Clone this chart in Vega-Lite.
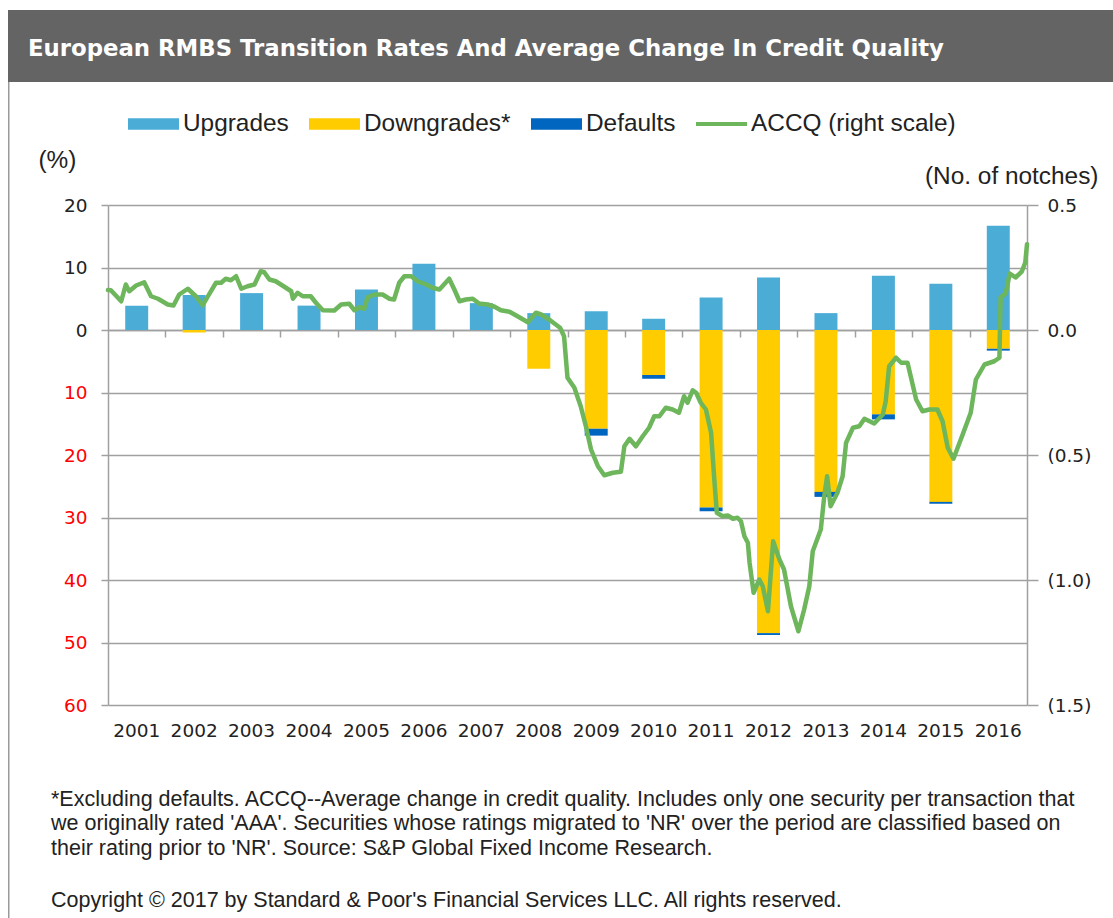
{
  "$schema": "https://vega.github.io/schema/vega-lite/v6.json",
  "background": "white",
  "padding": {"left": 8, "top": 10, "right": 0, "bottom": 0},
  "bounds": "flush",
  "spacing": 0,
  "resolve": {"scale": {"color": "independent"}, "legend": {"color": "independent"}},
  "config": {
    "axis": {"labelFont": "DejaVu Sans", "labelFontSize": 18.5, "labelColor": "#222222", "titleFont": "Liberation Sans", "titleFontSize": 24.4, "titleFontWeight": "normal", "titleColor": "#222222"},
    "legend": {"labelFont": "Liberation Sans", "labelFontSize": 24.4, "labelColor": "#222222", "labelLimit": 0}
  },
  "datasets": {
    "bars": [
      {"year": "2001", "series": "Upgrades", "value": 3.9},
      {"year": "2002", "series": "Upgrades", "value": 5.6},
      {"year": "2002", "series": "Downgrades*", "value": -0.4},
      {"year": "2003", "series": "Upgrades", "value": 5.9},
      {"year": "2004", "series": "Upgrades", "value": 3.9},
      {"year": "2005", "series": "Upgrades", "value": 6.5},
      {"year": "2006", "series": "Upgrades", "value": 10.6},
      {"year": "2007", "series": "Upgrades", "value": 4.3},
      {"year": "2008", "series": "Upgrades", "value": 2.7},
      {"year": "2008", "series": "Downgrades*", "value": -6.2},
      {"year": "2009", "series": "Upgrades", "value": 3.0},
      {"year": "2009", "series": "Downgrades*", "value": -15.8},
      {"year": "2009", "series": "Defaults", "value": -1.1},
      {"year": "2010", "series": "Upgrades", "value": 1.8},
      {"year": "2010", "series": "Downgrades*", "value": -7.2},
      {"year": "2010", "series": "Defaults", "value": -0.6},
      {"year": "2011", "series": "Upgrades", "value": 5.2},
      {"year": "2011", "series": "Downgrades*", "value": -28.4},
      {"year": "2011", "series": "Defaults", "value": -0.6},
      {"year": "2012", "series": "Upgrades", "value": 8.4},
      {"year": "2012", "series": "Downgrades*", "value": -48.5},
      {"year": "2012", "series": "Defaults", "value": -0.3},
      {"year": "2013", "series": "Upgrades", "value": 2.7},
      {"year": "2013", "series": "Downgrades*", "value": -25.9},
      {"year": "2013", "series": "Defaults", "value": -0.8},
      {"year": "2014", "series": "Upgrades", "value": 8.7},
      {"year": "2014", "series": "Downgrades*", "value": -13.5},
      {"year": "2014", "series": "Defaults", "value": -0.8},
      {"year": "2015", "series": "Upgrades", "value": 7.4},
      {"year": "2015", "series": "Downgrades*", "value": -27.5},
      {"year": "2015", "series": "Defaults", "value": -0.3},
      {"year": "2016", "series": "Upgrades", "value": 16.7},
      {"year": "2016", "series": "Downgrades*", "value": -3.0},
      {"year": "2016", "series": "Defaults", "value": -0.3}
    ],
    "accq": [
      {"t": 2001.0, "v": 0.16}, {"t": 2001.05, "v": 0.159}, {"t": 2001.23, "v": 0.115}, {"t": 2001.31, "v": 0.182}, {"t": 2001.37, "v": 0.155},
      {"t": 2001.49, "v": 0.178}, {"t": 2001.63, "v": 0.191}, {"t": 2001.75, "v": 0.135}, {"t": 2001.87, "v": 0.125},
      {"t": 2002.04, "v": 0.102}, {"t": 2002.14, "v": 0.098}, {"t": 2002.24, "v": 0.142}, {"t": 2002.39, "v": 0.165},
      {"t": 2002.53, "v": 0.135}, {"t": 2002.65, "v": 0.099}, {"t": 2002.74, "v": 0.135}, {"t": 2002.88, "v": 0.189},
      {"t": 2002.97, "v": 0.189}, {"t": 2003.05, "v": 0.205}, {"t": 2003.14, "v": 0.199}, {"t": 2003.23, "v": 0.215},
      {"t": 2003.32, "v": 0.165}, {"t": 2003.43, "v": 0.175}, {"t": 2003.55, "v": 0.182}, {"t": 2003.66, "v": 0.235},
      {"t": 2003.72, "v": 0.231}, {"t": 2003.81, "v": 0.202}, {"t": 2003.92, "v": 0.195}, {"t": 2004.07, "v": 0.173},
      {"t": 2004.19, "v": 0.155}, {"t": 2004.22, "v": 0.125}, {"t": 2004.3, "v": 0.149}, {"t": 2004.39, "v": 0.135},
      {"t": 2004.53, "v": 0.135}, {"t": 2004.62, "v": 0.109}, {"t": 2004.74, "v": 0.079}, {"t": 2004.94, "v": 0.078},
      {"t": 2005.06, "v": 0.102}, {"t": 2005.2, "v": 0.105}, {"t": 2005.29, "v": 0.079}, {"t": 2005.38, "v": 0.091},
      {"t": 2005.46, "v": 0.085}, {"t": 2005.52, "v": 0.131}, {"t": 2005.64, "v": 0.142}, {"t": 2005.78, "v": 0.142},
      {"t": 2005.9, "v": 0.125}, {"t": 2005.98, "v": 0.122}, {"t": 2006.07, "v": 0.189}, {"t": 2006.16, "v": 0.215},
      {"t": 2006.28, "v": 0.215}, {"t": 2006.39, "v": 0.195}, {"t": 2006.54, "v": 0.182}, {"t": 2006.65, "v": 0.169},
      {"t": 2006.77, "v": 0.162}, {"t": 2006.85, "v": 0.182}, {"t": 2006.94, "v": 0.205}, {"t": 2007.03, "v": 0.162},
      {"t": 2007.12, "v": 0.115}, {"t": 2007.23, "v": 0.122}, {"t": 2007.35, "v": 0.125}, {"t": 2007.46, "v": 0.106},
      {"t": 2007.61, "v": 0.102}, {"t": 2007.73, "v": 0.093}, {"t": 2007.84, "v": 0.079}, {"t": 2007.99, "v": 0.073},
      {"t": 2008.13, "v": 0.055}, {"t": 2008.31, "v": 0.031}, {"t": 2008.45, "v": 0.069}, {"t": 2008.54, "v": 0.062},
      {"t": 2008.68, "v": 0.042}, {"t": 2008.87, "v": 0.009}, {"t": 2008.94, "v": -0.025}, {"t": 2009.0, "v": -0.191},
      {"t": 2009.12, "v": -0.231}, {"t": 2009.23, "v": -0.305}, {"t": 2009.32, "v": -0.385}, {"t": 2009.41, "v": -0.478},
      {"t": 2009.53, "v": -0.545}, {"t": 2009.64, "v": -0.581}, {"t": 2009.79, "v": -0.571}, {"t": 2009.93, "v": -0.567},
      {"t": 2009.99, "v": -0.465}, {"t": 2010.08, "v": -0.435}, {"t": 2010.19, "v": -0.465}, {"t": 2010.31, "v": -0.425},
      {"t": 2010.42, "v": -0.391}, {"t": 2010.51, "v": -0.345}, {"t": 2010.6, "v": -0.345}, {"t": 2010.71, "v": -0.311},
      {"t": 2010.83, "v": -0.318}, {"t": 2010.94, "v": -0.331}, {"t": 2011.03, "v": -0.265}, {"t": 2011.09, "v": -0.291},
      {"t": 2011.18, "v": -0.241}, {"t": 2011.24, "v": -0.251}, {"t": 2011.32, "v": -0.291}, {"t": 2011.41, "v": -0.318},
      {"t": 2011.5, "v": -0.411}, {"t": 2011.56, "v": -0.611}, {"t": 2011.6, "v": -0.731}, {"t": 2011.7, "v": -0.745},
      {"t": 2011.79, "v": -0.742}, {"t": 2011.88, "v": -0.755}, {"t": 2011.96, "v": -0.751}, {"t": 2012.02, "v": -0.765},
      {"t": 2012.08, "v": -0.825}, {"t": 2012.14, "v": -0.851}, {"t": 2012.17, "v": -0.931}, {"t": 2012.24, "v": -1.051},
      {"t": 2012.34, "v": -0.998}, {"t": 2012.4, "v": -1.025}, {"t": 2012.49, "v": -1.125}, {"t": 2012.58, "v": -0.845},
      {"t": 2012.69, "v": -0.918}, {"t": 2012.77, "v": -0.958}, {"t": 2012.89, "v": -1.105}, {"t": 2013.02, "v": -1.205},
      {"t": 2013.12, "v": -1.118}, {"t": 2013.21, "v": -1.025}, {"t": 2013.27, "v": -0.885}, {"t": 2013.41, "v": -0.798},
      {"t": 2013.47, "v": -0.665}, {"t": 2013.52, "v": -0.585}, {"t": 2013.58, "v": -0.705}, {"t": 2013.7, "v": -0.651},
      {"t": 2013.79, "v": -0.585}, {"t": 2013.85, "v": -0.451}, {"t": 2013.97, "v": -0.391}, {"t": 2014.08, "v": -0.385},
      {"t": 2014.17, "v": -0.355}, {"t": 2014.34, "v": -0.374}, {"t": 2014.49, "v": -0.338}, {"t": 2014.54, "v": -0.285},
      {"t": 2014.6, "v": -0.145}, {"t": 2014.72, "v": -0.111}, {"t": 2014.81, "v": -0.131}, {"t": 2014.92, "v": -0.131},
      {"t": 2015.07, "v": -0.278}, {"t": 2015.18, "v": -0.325}, {"t": 2015.3, "v": -0.318}, {"t": 2015.44, "v": -0.318},
      {"t": 2015.53, "v": -0.365}, {"t": 2015.62, "v": -0.471}, {"t": 2015.72, "v": -0.515}, {"t": 2015.88, "v": -0.418},
      {"t": 2016.02, "v": -0.331}, {"t": 2016.11, "v": -0.198}, {"t": 2016.26, "v": -0.138}, {"t": 2016.43, "v": -0.125},
      {"t": 2016.52, "v": -0.111}, {"t": 2016.54, "v": 0.13}, {"t": 2016.63, "v": 0.147}, {"t": 2016.7, "v": 0.226},
      {"t": 2016.8, "v": 0.21}, {"t": 2016.91, "v": 0.234}, {"t": 2016.97, "v": 0.27}, {"t": 2017.0, "v": 0.343}
    ]
  },
  "vconcat": [
    {
      "width": 1105,
      "height": 72,
      "view": {"fill": "#646464", "stroke": null},
      "data": {"values": []},
      "mark": "point",
      "title": {
        "text": "European RMBS Transition Rates And Average Change In Credit Quality",
        "anchor": "start", "frame": "group", "orient": "top", "offset": -69, "dx": 20,
        "baseline": "alphabetic", "color": "#ffffff", "font": "DejaVu Sans", "fontSize": 22.8, "fontWeight": "bold"
      }
    },
    {
      "spacing": 0,
      "bounds": "flush",
      "resolve": {"scale": {"color": "independent"}, "legend": {"color": "independent"}},
      "hconcat": [
        {
          "width": 1.5,
          "height": 836,
          "view": {"fill": "#9A9A9A", "stroke": null},
          "data": {"values": []},
          "mark": "point"
        },
        {
          "width": 97.5,
          "height": 10,
          "view": {"stroke": null},
          "data": {"values": []},
          "mark": "point"
        },
        {
          "spacing": 0,
          "bounds": "flush",
          "resolve": {"scale": {"color": "independent"}, "legend": {"color": "independent"}},
          "vconcat": [
            {
              "width": 919,
              "height": 123,
              "view": {"stroke": null},
              "data": {"values": []},
              "mark": "point"
            },
            {
              "width": 919,
              "height": 500,
              "view": {"stroke": null},
              "title": {
                "text": [
                  "*Excluding defaults. ACCQ--Average change in credit quality. Includes only one  security per transaction that",
                  "we originally rated 'AAA'. Securities whose ratings  migrated to 'NR' over the period are classified based on",
                  "their rating prior to 'NR'.  Source: S&P Global Fixed Income Research."
                ],
                "subtitle": "Copyright © 2017 by Standard & Poor's Financial Services LLC. All rights reserved.",
                "orient": "bottom", "anchor": "start", "frame": "group", "dx": -57, "offset": 49,
                "baseline": "top",
                "font": "Liberation Sans", "fontSize": 21.5, "fontWeight": "normal", "color": "#222222", "lineHeight": 24.5,
                "subtitleFont": "Liberation Sans", "subtitleFontSize": 21.5, "subtitleColor": "#222222", "subtitlePadding": 31
              },
              "resolve": {"scale": {"x": "independent", "y": "independent"}, "axis": {"x": "independent", "y": "independent"}},
              "layer": [
                {
                  "data": {"name": "bars"},
                  "mark": {"type": "bar"},
                  "encoding": {
                    "x": {
                      "field": "year", "type": "ordinal",
                      "scale": {"paddingInner": 0.6, "paddingOuter": 0.3},
                      "axis": {"orient": "bottom", "title": null, "domain": false, "ticks": false, "grid": false, "labelAngle": 0, "labelPadding": 16}
                    },
                    "y": {
                      "field": "value", "type": "quantitative", "stack": "zero",
                      "scale": {"domain": [-60, 20], "nice": false, "zero": false},
                      "axis": {
                        "orient": "left", "values": [-60, -50, -40, -30, -20, -10, 0, 10, 20],
                        "labelExpr": "format(abs(datum.value), 'd')",
                        "labelColor": {"condition": {"test": "datum.value < 0", "value": "#FF0000"}, "value": "#222222"},
                        "grid": true, "gridColor": "#A0A0A0", "gridWidth": 1.5,
                        "domain": true, "domainColor": "#A0A0A0", "domainWidth": 1.5,
                        "ticks": true, "tickColor": "#A0A0A0", "tickWidth": 1.5, "tickSize": 7, "labelPadding": 14,
                        "title": "(%)", "titleAngle": 0, "titleAlign": "left", "titleBaseline": "middle", "titleX": -70, "titleY": -45
                      }
                    },
                    "color": {
                      "field": "series", "type": "nominal",
                      "scale": {"domain": ["Upgrades", "Downgrades*", "Defaults", "ACCQ (right scale)"], "range": ["#4BACD6", "#FFCC00", "#0066BF", "#6DB65B"]},
                      "legend": {
                        "title": null, "orient": "none", "direction": "horizontal", "legendX": 20, "legendY": -106.5,
                        "symbolSize": 2601, "labelOffset": 4, "columnPadding": 20,
                        "encode": {
                          "symbols": {
                            "update": {
                              "shape": {"signal": "datum.value === 'ACCQ (right scale)' ? 'M-1,-0.08H1V0.08H-1Z' : 'M-1,-0.225H1V0.225H-1Z'"},
                              "fill": {"signal": "datum.value === 'Upgrades' ? '#4BACD6' : datum.value === 'Downgrades*' ? '#FFCC00' : datum.value === 'Defaults' ? '#0066BF' : '#6DB65B'"},
                              "strokeWidth": {"value": 0},
                              "opacity": {"value": 1}
                            }
                          }
                        }
                      }
                    },
                    "order": {"field": "series", "sort": "descending"}
                  }
                },
                {
                  "data": {"name": "accq"},
                  "mark": {"type": "line", "strokeWidth": 4.5, "strokeJoin": "round", "strokeCap": "round"},
                  "encoding": {
                    "x": {
                      "field": "t", "type": "quantitative",
                      "scale": {"domain": [2001, 2017], "nice": false, "zero": false},
                      "axis": {
                        "orient": "bottom", "offset": -375, "values": [2002, 2003, 2004, 2005, 2006, 2007, 2008, 2009, 2010, 2011, 2012, 2013, 2014, 2015, 2016],
                        "labels": false, "grid": false, "title": null,
                        "domain": true, "domainColor": "#A0A0A0", "domainWidth": 1.5,
                        "ticks": true, "tickColor": "#A0A0A0", "tickWidth": 1.5, "tickSize": 7
                      }
                    },
                    "y": {
                      "field": "v", "type": "quantitative",
                      "scale": {"domain": [-1.5, 0.5], "nice": false, "zero": false},
                      "axis": {
                        "orient": "right", "values": [-1.5, -1, -0.5, 0, 0.5],
                        "labelExpr": "datum.value < 0 ? '(' + format(-datum.value, '.1f') + ')' : format(datum.value, '.1f')",
                        "grid": false, "domain": true, "domainColor": "#A0A0A0", "domainWidth": 1.5,
                        "ticks": true, "tickColor": "#A0A0A0", "tickWidth": 1.5, "tickSize": 11, "labelPadding": 9,
                        "title": "(No. of notches)", "titleAngle": 0, "titleAlign": "right", "titleBaseline": "middle", "titleX": 71, "titleY": -29
                      }
                    },
                    "color": {"datum": "ACCQ (right scale)", "type": "nominal"}
                  }
                }
              ]
            }
          ]
        }
      ]
    }
  ]
}
